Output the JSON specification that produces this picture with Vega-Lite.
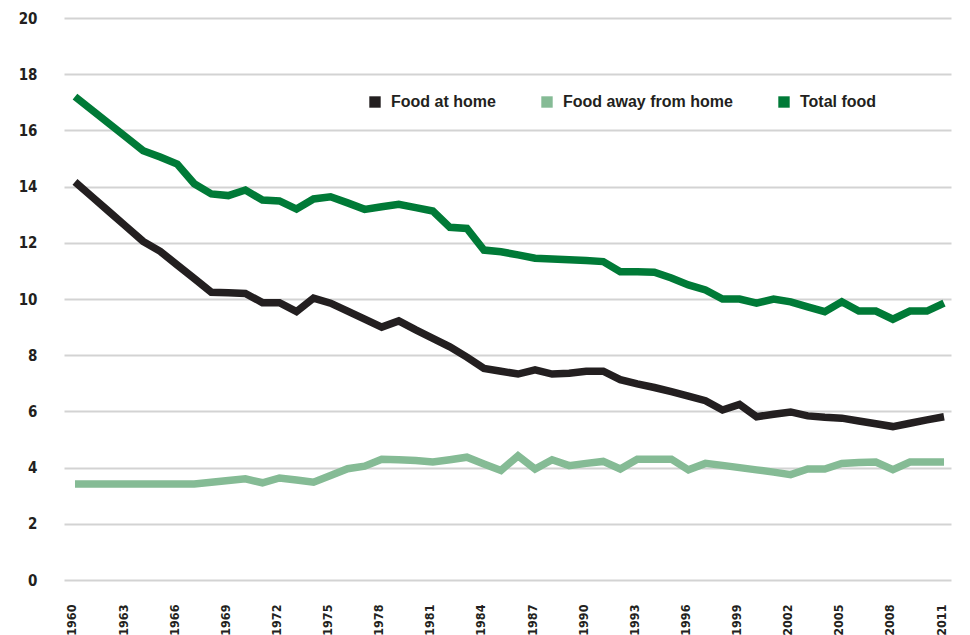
{
  "$schema": "https://vega.github.io/schema/vega-lite/v6.json",
  "width": 887,
  "height": 562,
  "autosize": {"type": "none"},
  "padding": {"left": 64, "top": 18, "right": 19, "bottom": 55},
  "background": "white",
  "config": {"view": {"stroke": null}},
  "data": {"values": [
    {"year":1960,"series":"Food at home","value":14.17},{"year":1960,"series":"Food away from home","value":3.42},{"year":1960,"series":"Total food","value":17.2},
    {"year":1961,"series":"Food at home","value":13.64},{"year":1961,"series":"Food away from home","value":3.42},{"year":1961,"series":"Total food","value":16.72},
    {"year":1962,"series":"Food at home","value":13.11},{"year":1962,"series":"Food away from home","value":3.42},{"year":1962,"series":"Total food","value":16.24},
    {"year":1963,"series":"Food at home","value":12.58},{"year":1963,"series":"Food away from home","value":3.42},{"year":1963,"series":"Total food","value":15.76},
    {"year":1964,"series":"Food at home","value":12.05},{"year":1964,"series":"Food away from home","value":3.42},{"year":1964,"series":"Total food","value":15.28},
    {"year":1965,"series":"Food at home","value":11.7},{"year":1965,"series":"Food away from home","value":3.42},{"year":1965,"series":"Total food","value":15.05},
    {"year":1966,"series":"Food at home","value":11.21},{"year":1966,"series":"Food away from home","value":3.42},{"year":1966,"series":"Total food","value":14.8},
    {"year":1967,"series":"Food at home","value":10.73},{"year":1967,"series":"Food away from home","value":3.42},{"year":1967,"series":"Total food","value":14.1},
    {"year":1968,"series":"Food at home","value":10.24},{"year":1968,"series":"Food away from home","value":3.48},{"year":1968,"series":"Total food","value":13.74},
    {"year":1969,"series":"Food at home","value":10.22},{"year":1969,"series":"Food away from home","value":3.54},{"year":1969,"series":"Total food","value":13.68},
    {"year":1970,"series":"Food at home","value":10.2},{"year":1970,"series":"Food away from home","value":3.6},{"year":1970,"series":"Total food","value":13.88},
    {"year":1971,"series":"Food at home","value":9.87},{"year":1971,"series":"Food away from home","value":3.46},{"year":1971,"series":"Total food","value":13.52},
    {"year":1972,"series":"Food at home","value":9.87},{"year":1972,"series":"Food away from home","value":3.63},{"year":1972,"series":"Total food","value":13.49},
    {"year":1973,"series":"Food at home","value":9.55},{"year":1973,"series":"Food away from home","value":3.56},{"year":1973,"series":"Total food","value":13.2},
    {"year":1974,"series":"Food at home","value":10.03},{"year":1974,"series":"Food away from home","value":3.48},{"year":1974,"series":"Total food","value":13.56},
    {"year":1975,"series":"Food at home","value":9.85},{"year":1975,"series":"Food away from home","value":3.72},{"year":1975,"series":"Total food","value":13.64},
    {"year":1976,"series":"Food at home","value":9.57},{"year":1976,"series":"Food away from home","value":3.96},{"year":1976,"series":"Total food","value":13.42},
    {"year":1977,"series":"Food at home","value":9.28},{"year":1977,"series":"Food away from home","value":4.05},{"year":1977,"series":"Total food","value":13.19},
    {"year":1978,"series":"Food at home","value":9.0},{"year":1978,"series":"Food away from home","value":4.3},{"year":1978,"series":"Total food","value":13.28},
    {"year":1979,"series":"Food at home","value":9.22},{"year":1979,"series":"Food away from home","value":4.28},{"year":1979,"series":"Total food","value":13.37},
    {"year":1980,"series":"Food at home","value":8.9},{"year":1980,"series":"Food away from home","value":4.25},{"year":1980,"series":"Total food","value":13.25},
    {"year":1981,"series":"Food at home","value":8.6},{"year":1981,"series":"Food away from home","value":4.2},{"year":1981,"series":"Total food","value":13.13},
    {"year":1982,"series":"Food at home","value":8.3},{"year":1982,"series":"Food away from home","value":4.28},{"year":1982,"series":"Total food","value":12.55},
    {"year":1983,"series":"Food at home","value":7.93},{"year":1983,"series":"Food away from home","value":4.37},{"year":1983,"series":"Total food","value":12.51},
    {"year":1984,"series":"Food at home","value":7.53},{"year":1984,"series":"Food away from home","value":4.13},{"year":1984,"series":"Total food","value":11.74},
    {"year":1985,"series":"Food at home","value":7.43},{"year":1985,"series":"Food away from home","value":3.9},{"year":1985,"series":"Total food","value":11.68},
    {"year":1986,"series":"Food at home","value":7.33},{"year":1986,"series":"Food away from home","value":4.42},{"year":1986,"series":"Total food","value":11.57},
    {"year":1987,"series":"Food at home","value":7.48},{"year":1987,"series":"Food away from home","value":3.95},{"year":1987,"series":"Total food","value":11.45},
    {"year":1988,"series":"Food at home","value":7.33},{"year":1988,"series":"Food away from home","value":4.28},{"year":1988,"series":"Total food","value":11.42},
    {"year":1989,"series":"Food at home","value":7.36},{"year":1989,"series":"Food away from home","value":4.07},{"year":1989,"series":"Total food","value":11.4},
    {"year":1990,"series":"Food at home","value":7.43},{"year":1990,"series":"Food away from home","value":4.15},{"year":1990,"series":"Total food","value":11.37},
    {"year":1991,"series":"Food at home","value":7.43},{"year":1991,"series":"Food away from home","value":4.22},{"year":1991,"series":"Total food","value":11.33},
    {"year":1992,"series":"Food at home","value":7.13},{"year":1992,"series":"Food away from home","value":3.95},{"year":1992,"series":"Total food","value":10.97},
    {"year":1993,"series":"Food at home","value":6.98},{"year":1993,"series":"Food away from home","value":4.3},{"year":1993,"series":"Total food","value":10.97},
    {"year":1994,"series":"Food at home","value":6.85},{"year":1994,"series":"Food away from home","value":4.3},{"year":1994,"series":"Total food","value":10.95},
    {"year":1995,"series":"Food at home","value":6.7},{"year":1995,"series":"Food away from home","value":4.3},{"year":1995,"series":"Total food","value":10.75},
    {"year":1996,"series":"Food at home","value":6.54},{"year":1996,"series":"Food away from home","value":3.92},{"year":1996,"series":"Total food","value":10.5},
    {"year":1997,"series":"Food at home","value":6.38},{"year":1997,"series":"Food away from home","value":4.15},{"year":1997,"series":"Total food","value":10.32},
    {"year":1998,"series":"Food at home","value":6.05},{"year":1998,"series":"Food away from home","value":4.08},{"year":1998,"series":"Total food","value":10.0},
    {"year":1999,"series":"Food at home","value":6.25},{"year":1999,"series":"Food away from home","value":4.0},{"year":1999,"series":"Total food","value":10.0},
    {"year":2000,"series":"Food at home","value":5.81},{"year":2000,"series":"Food away from home","value":3.92},{"year":2000,"series":"Total food","value":9.85},
    {"year":2001,"series":"Food at home","value":5.9},{"year":2001,"series":"Food away from home","value":3.84},{"year":2001,"series":"Total food","value":10.0},
    {"year":2002,"series":"Food at home","value":5.98},{"year":2002,"series":"Food away from home","value":3.75},{"year":2002,"series":"Total food","value":9.9},
    {"year":2003,"series":"Food at home","value":5.84},{"year":2003,"series":"Food away from home","value":3.95},{"year":2003,"series":"Total food","value":9.72},
    {"year":2004,"series":"Food at home","value":5.79},{"year":2004,"series":"Food away from home","value":3.95},{"year":2004,"series":"Total food","value":9.55},
    {"year":2005,"series":"Food at home","value":5.76},{"year":2005,"series":"Food away from home","value":4.15},{"year":2005,"series":"Total food","value":9.9},
    {"year":2006,"series":"Food at home","value":5.66},{"year":2006,"series":"Food away from home","value":4.18},{"year":2006,"series":"Total food","value":9.57},
    {"year":2007,"series":"Food at home","value":5.56},{"year":2007,"series":"Food away from home","value":4.2},{"year":2007,"series":"Total food","value":9.57},
    {"year":2008,"series":"Food at home","value":5.46},{"year":2008,"series":"Food away from home","value":3.93},{"year":2008,"series":"Total food","value":9.28},
    {"year":2009,"series":"Food at home","value":5.58},{"year":2009,"series":"Food away from home","value":4.2},{"year":2009,"series":"Total food","value":9.57},
    {"year":2010,"series":"Food at home","value":5.7},{"year":2010,"series":"Food away from home","value":4.2},{"year":2010,"series":"Total food","value":9.57},
    {"year":2011,"series":"Food at home","value":5.81},{"year":2011,"series":"Food away from home","value":4.2},{"year":2011,"series":"Total food","value":9.85}
  ]},
  "mark": {"type": "line", "strokeWidth": 7.5, "strokeJoin": "miter", "strokeCap": "butt"},
  "encoding": {
    "x": {
      "field": "year", "type": "quantitative",
      "scale": {"domain": [1959.355, 2011.41], "nice": false, "zero": false},
      "axis": {
        "title": null,
        "values": [1960,1963,1966,1969,1972,1975,1978,1981,1984,1987,1990,1993,1996,1999,2002,2005,2008,2011],
        "format": "d",
        "labelAngle": -90,
        "labelAlign": "right",
        "labelBaseline": "middle",
        "labelOffset": -3,
        "labelPadding": 24,
        "labelFont": "Liberation Sans Narrow, DejaVu Sans Condensed, Arial Narrow, Liberation Sans, sans-serif",
        "labelFontWeight": "bold",
        "labelFontSize": 12.5,
        "labelColor": "#231f20",
        "labelOverlap": false,
        "labelFlush": false,
        "ticks": false,
        "domain": false,
        "grid": false
      }
    },
    "y": {
      "field": "value", "type": "quantitative",
      "scale": {"domain": [0, 20], "nice": false},
      "axis": {
        "title": null,
        "values": [0,2,4,6,8,10,12,14,16,18,20],
        "labelPadding": 27,
        "labelFont": "Liberation Sans Narrow, DejaVu Sans Condensed, Arial Narrow, Liberation Sans, sans-serif",
        "labelFontWeight": "bold",
        "labelFontSize": 15,
        "labelColor": "#231f20",
        "ticks": false,
        "domain": false,
        "grid": true,
        "gridColor": "#d3d3d3",
        "gridWidth": 2
      }
    },
    "color": {
      "field": "series", "type": "nominal",
      "scale": {"domain": ["Food at home", "Food away from home", "Total food"], "range": ["#231f20", "#85bb95", "#007a37"]},
      "legend": {
        "title": null,
        "orient": "none",
        "direction": "horizontal",
        "legendX": 303,
        "legendY": 76,
        "padding": 0,
        "symbolType": "square",
        "symbolSize": 130,
        "symbolStrokeWidth": 0,
        "labelOffset": 8,
        "columnPadding": 43,
        "labelFont": "Liberation Sans, Arial, Helvetica, sans-serif",
        "labelFontWeight": "bold",
        "labelFontSize": 16,
        "labelColor": "#231f20",
        "labelLimit": 300,
        "encode": {"symbols": {"update": {"fill": {"scale": "color", "field": "value"}, "opacity": {"value": 1}, "strokeWidth": {"value": 0}}}}
      }
    }
  }
}
